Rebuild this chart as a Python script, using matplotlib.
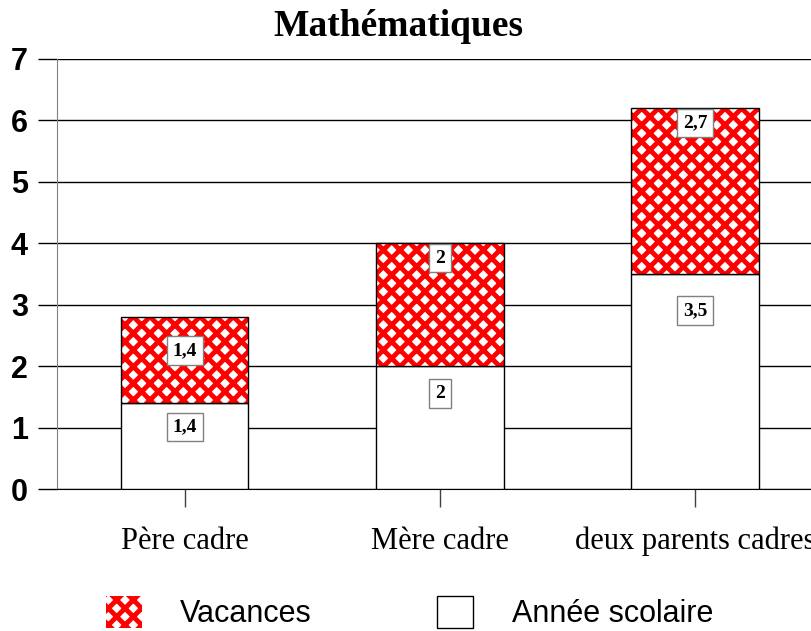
import matplotlib
matplotlib.use("Agg")
import matplotlib.pyplot as plt
from matplotlib.patches import Patch

categories = ["Père cadre", "Mère cadre", "deux parents cadres"]
annee_scolaire = [1.4, 2.0, 3.5]
vacances = [1.4, 2.0, 2.7]
yticks = [0, 1, 2, 3, 4, 5, 6, 7]

# label anchor as fraction of each segment height (layout only)
frac_annee = [0.72, 0.78, 0.83]
frac_vac = [0.61, 0.88, 0.91]

plt.rcParams['hatch.linewidth'] = 3.5

fig = plt.figure(figsize=(8.11, 6.31), dpi=100)
ax = fig.add_axes([0.0703, 0.225, 0.944, 0.6815])

x = list(range(len(categories)))
w = 0.5
ax.bar(x, annee_scolaire, width=w, color="white", edgecolor="black", linewidth=1, zorder=3)
ax.bar(x, vacances, width=w, bottom=annee_scolaire, color="white", edgecolor="red",
       hatch="xx", linewidth=0, zorder=3)
ax.bar(x, vacances, width=w, bottom=annee_scolaire, fill=False, edgecolor="black",
       linewidth=1, zorder=4)

def fmt(v):
    return f"{v:g}".replace(".", ",")

box = dict(boxstyle="square,pad=0.3", facecolor="white", edgecolor="#808080", linewidth=1)
for i in x:
    ax.text(i, annee_scolaire[i] * frac_annee[i], fmt(annee_scolaire[i]), ha="center", va="center",
            family="Liberation Serif", fontweight="bold", fontsize=14, bbox=box, zorder=5)
    ax.text(i, annee_scolaire[i] + vacances[i] * frac_vac[i], fmt(vacances[i]), ha="center", va="center",
            family="Liberation Serif", fontweight="bold", fontsize=14, bbox=box, zorder=5)

ax.set_xlim(-0.5, 2.5)
ax.set_ylim(0, 7)
ax.set_yticks(yticks)
ax.set_yticklabels([str(t) for t in yticks], family="Liberation Sans", fontweight="bold", fontsize=22)
ax.yaxis.grid(True, color="black", linewidth=1, zorder=0)
ax.set_axisbelow(True)
ax.tick_params(axis="y", direction="out", length=14, width=1, color="black", pad=7)
ax.set_xticks(x)
ax.set_xticklabels(categories, family="Liberation Serif", fontsize=22)
ax.tick_params(axis="x", direction="out", length=13, width=1, color="#404040", pad=14)

for s in ["top", "right"]:
    ax.spines[s].set_visible(False)
ax.spines["left"].set_color("#808080")
ax.spines["bottom"].set_color("black")

fig.suptitle("Mathématiques", family="Liberation Serif", fontweight="bold", fontsize=27, x=0.491, y=0.985)

handles = [Patch(facecolor="white", edgecolor="red", hatch="xx", linewidth=0),
           Patch(facecolor="white", edgecolor="black", linewidth=1)]
fig.legend(handles, ["Vacances", "Année scolaire"], loc="center", bbox_to_anchor=(0.505, 0.029),
           ncol=2, frameon=False, prop={"family": "Liberation Sans", "size": 22},
           handlelength=1.18, handleheight=1.25, handletextpad=1.25, columnspacing=4.1)

fig.savefig("out.png", dpi=100)
